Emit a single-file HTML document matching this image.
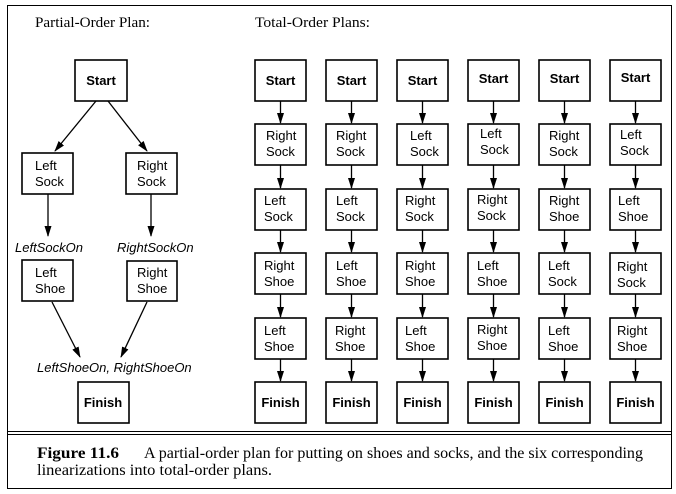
<!DOCTYPE html>
<html><head><meta charset="utf-8"><style>
html,body{margin:0;padding:0;background:#fff;}
svg{display:block;}
.h{font-family:"Liberation Sans",sans-serif;font-size:13px;}
.b{font-family:"Liberation Sans",sans-serif;font-size:13px;font-weight:bold;}
.i{font-family:"Liberation Sans",sans-serif;font-size:13px;font-style:italic;}
.s{font-family:"Liberation Serif",serif;font-size:15px;}
.c{font-family:"Liberation Serif",serif;font-size:16px;}
</style></head><body>
<svg width="676" height="494" viewBox="0 0 676 494" xmlns="http://www.w3.org/2000/svg">
<defs><marker id="a" markerWidth="11" markerHeight="8" refX="10" refY="3.5" orient="auto" markerUnits="userSpaceOnUse"><path d="M0,0 L11,3.5 L0,7 z" fill="#000"/></marker></defs>
<rect x="7.5" y="5.5" width="664" height="483" fill="none" stroke="#000" stroke-width="1"/>
<line x1="7" y1="431.5" x2="672" y2="431.5" stroke="#000"/>
<line x1="7" y1="434.5" x2="672" y2="434.5" stroke="#000"/>
<text class="s" x="35" y="27" textLength="115" lengthAdjust="spacingAndGlyphs">Partial-Order Plan:</text>
<text class="s" x="255" y="27" textLength="115" lengthAdjust="spacingAndGlyphs">Total-Order Plans:</text>
<g fill="#fff" stroke="#000" stroke-width="1.6">
<rect x="75" y="60" width="52" height="41"/>
<rect x="22" y="153" width="51" height="41"/>
<rect x="126" y="153" width="51" height="41"/>
<rect x="22" y="260" width="51" height="41"/>
<rect x="127" y="261" width="50" height="40"/>
<rect x="78" y="382" width="51" height="41"/>
</g>
<g stroke="#000" stroke-width="1.3" marker-end="url(#a)">
<line x1="96" y1="101" x2="55" y2="151"/>
<line x1="108" y1="101" x2="147" y2="151"/>
<line x1="48" y1="194" x2="48" y2="236"/>
<line x1="151" y1="194" x2="151" y2="236"/>
<line x1="52" y1="302" x2="80" y2="357"/>
<line x1="147" y1="302" x2="121" y2="357"/>
</g>
<text class="b" x="101" y="85" text-anchor="middle">Start</text>
<text class="h" x="35" y="170">Left</text><text class="h" x="35" y="186">Sock</text>
<text class="h" x="137" y="170">Right</text><text class="h" x="137" y="186">Sock</text>
<text class="i" x="15" y="252">LeftSockOn</text>
<text class="i" x="117" y="252">RightSockOn</text>
<text class="h" x="35" y="277">Left</text><text class="h" x="35" y="293">Shoe</text>
<text class="h" x="137" y="277">Right</text><text class="h" x="137" y="293">Shoe</text>
<text class="i" x="37" y="372">LeftShoeOn, RightShoeOn</text>
<text class="b" x="103" y="407" text-anchor="middle">Finish</text>
<g fill="#fff" stroke="#000" stroke-width="1.6">
<rect x="255" y="60" width="51" height="41"/><rect x="255" y="124" width="51" height="41"/><rect x="255" y="189" width="51" height="41"/><rect x="255" y="253" width="51" height="41"/><rect x="255" y="318" width="51" height="41"/><rect x="255" y="382" width="51" height="41"/>
<rect x="326" y="60" width="51" height="41"/><rect x="326" y="124" width="51" height="41"/><rect x="326" y="189" width="51" height="41"/><rect x="326" y="253" width="51" height="41"/><rect x="326" y="318" width="51" height="41"/><rect x="326" y="382" width="51" height="41"/>
<rect x="397" y="60" width="51" height="41"/><rect x="397" y="124" width="51" height="41"/><rect x="397" y="189" width="51" height="41"/><rect x="397" y="253" width="51" height="41"/><rect x="397" y="318" width="51" height="41"/><rect x="397" y="382" width="51" height="41"/>
<rect x="468" y="60" width="51" height="41"/><rect x="468" y="124" width="51" height="41"/><rect x="468" y="189" width="51" height="41"/><rect x="468" y="253" width="51" height="41"/><rect x="468" y="318" width="51" height="41"/><rect x="468" y="382" width="51" height="41"/>
<rect x="539" y="60" width="51" height="41"/><rect x="539" y="124" width="51" height="41"/><rect x="539" y="189" width="51" height="41"/><rect x="539" y="253" width="51" height="41"/><rect x="539" y="318" width="51" height="41"/><rect x="539" y="382" width="51" height="41"/>
<rect x="610" y="60" width="51" height="41"/><rect x="610" y="124" width="51" height="41"/><rect x="610" y="189" width="51" height="41"/><rect x="610" y="253" width="51" height="41"/><rect x="610" y="318" width="51" height="41"/><rect x="610" y="382" width="51" height="41"/>
</g>
<g stroke="#000" stroke-width="1.3" marker-end="url(#a)">
<line x1="280.5" y1="101" x2="280.5" y2="123"/><line x1="280.5" y1="165" x2="280.5" y2="188"/><line x1="280.5" y1="230" x2="280.5" y2="252"/><line x1="280.5" y1="294" x2="280.5" y2="317"/><line x1="280.5" y1="359" x2="280.5" y2="381"/>
<line x1="351.5" y1="101" x2="351.5" y2="123"/><line x1="351.5" y1="165" x2="351.5" y2="188"/><line x1="351.5" y1="230" x2="351.5" y2="252"/><line x1="351.5" y1="294" x2="351.5" y2="317"/><line x1="351.5" y1="359" x2="351.5" y2="381"/>
<line x1="422.5" y1="101" x2="422.5" y2="123"/><line x1="422.5" y1="165" x2="422.5" y2="188"/><line x1="422.5" y1="230" x2="422.5" y2="252"/><line x1="422.5" y1="294" x2="422.5" y2="317"/><line x1="422.5" y1="359" x2="422.5" y2="381"/>
<line x1="493.5" y1="101" x2="493.5" y2="123"/><line x1="493.5" y1="165" x2="493.5" y2="188"/><line x1="493.5" y1="230" x2="493.5" y2="252"/><line x1="493.5" y1="294" x2="493.5" y2="317"/><line x1="493.5" y1="359" x2="493.5" y2="381"/>
<line x1="564.5" y1="101" x2="564.5" y2="123"/><line x1="564.5" y1="165" x2="564.5" y2="188"/><line x1="564.5" y1="230" x2="564.5" y2="252"/><line x1="564.5" y1="294" x2="564.5" y2="317"/><line x1="564.5" y1="359" x2="564.5" y2="381"/>
<line x1="635.5" y1="101" x2="635.5" y2="123"/><line x1="635.5" y1="165" x2="635.5" y2="188"/><line x1="635.5" y1="230" x2="635.5" y2="252"/><line x1="635.5" y1="294" x2="635.5" y2="317"/><line x1="635.5" y1="359" x2="635.5" y2="381"/>
</g>
<g class="b" text-anchor="middle">
<text x="280.5" y="85">Start</text><text x="351.5" y="85">Start</text><text x="422.5" y="85">Start</text><text x="493.5" y="83">Start</text><text x="564.5" y="83">Start</text><text x="635.5" y="82">Start</text>
<text x="280.5" y="407">Finish</text><text x="351.5" y="407">Finish</text><text x="422.5" y="407">Finish</text><text x="493.5" y="407">Finish</text><text x="564.5" y="407">Finish</text><text x="635.5" y="407">Finish</text>
</g>
<g class="h">
<text x="266" y="140">Right</text><text x="266" y="156">Sock</text>
<text x="264" y="205">Left</text><text x="264" y="221">Sock</text>
<text x="264" y="270">Right</text><text x="264" y="286">Shoe</text>
<text x="264" y="335">Left</text><text x="264" y="351">Shoe</text>
<text x="336" y="140">Right</text><text x="336" y="156">Sock</text>
<text x="336" y="205">Left</text><text x="336" y="221">Sock</text>
<text x="336" y="270">Left</text><text x="336" y="286">Shoe</text>
<text x="335" y="335">Right</text><text x="335" y="351">Shoe</text>
<text x="410" y="140">Left</text><text x="410" y="156">Sock</text>
<text x="405" y="205">Right</text><text x="405" y="221">Sock</text>
<text x="405" y="270">Right</text><text x="405" y="286">Shoe</text>
<text x="405" y="335">Left</text><text x="405" y="351">Shoe</text>
<text x="480" y="138">Left</text><text x="480" y="154">Sock</text>
<text x="477" y="204">Right</text><text x="477" y="220">Sock</text>
<text x="477" y="270">Left</text><text x="477" y="286">Shoe</text>
<text x="477" y="334">Right</text><text x="477" y="350">Shoe</text>
<text x="549" y="140">Right</text><text x="549" y="156">Sock</text>
<text x="549" y="205">Right</text><text x="549" y="221">Shoe</text>
<text x="548" y="270">Left</text><text x="548" y="286">Sock</text>
<text x="548" y="335">Left</text><text x="548" y="351">Shoe</text>
<text x="620" y="139">Left</text><text x="620" y="155">Sock</text>
<text x="618" y="205">Left</text><text x="618" y="221">Shoe</text>
<text x="617" y="271">Right</text><text x="617" y="287">Sock</text>
<text x="617" y="335">Right</text><text x="617" y="351">Shoe</text>
</g>
<text class="c" x="37" y="458" font-weight="bold" textLength="82" lengthAdjust="spacingAndGlyphs">Figure 11.6</text>
<text class="c" x="144" y="458" textLength="499" lengthAdjust="spacingAndGlyphs">A partial-order plan for putting on shoes and socks, and the six corresponding</text>
<text class="c" x="37" y="475" textLength="235" lengthAdjust="spacingAndGlyphs">linearizations into total-order plans.</text>
</svg>
</body></html>
